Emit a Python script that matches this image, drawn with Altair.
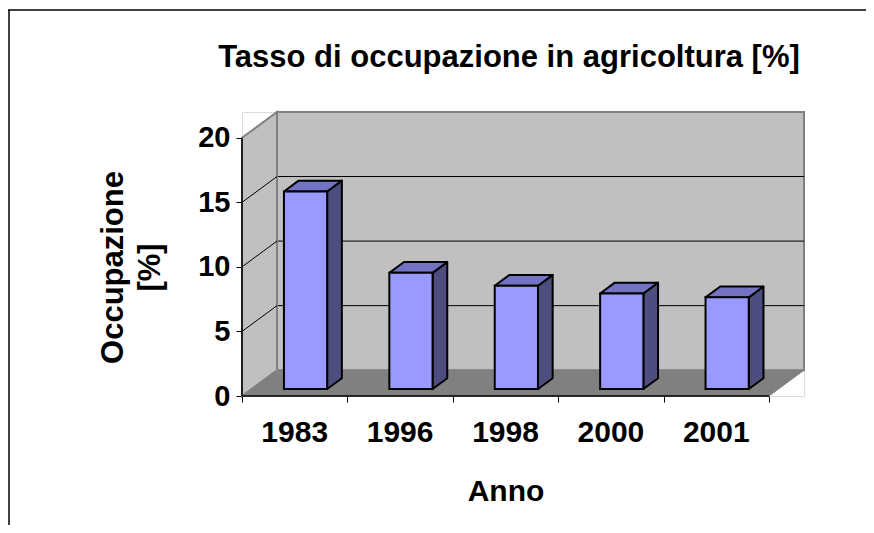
import altair as alt
import pandas as pd

# ---- data ----
years = ["1983", "1996", "1998", "2000", "2001"]
values = [15.3, 9.0, 8.0, 7.4, 7.1]
y_ticks = [0, 5, 10, 15, 20]
grid_vals = [5, 10, 15]
title_text = "Tasso di occupazione in agricoltura [%]"

# ---- pseudo-3D geometry (in data units) ----
DX = 0.332   # depth offset along x (category units)
DY = 2.0     # depth offset along y (value units)
F0X = 0.31   # depth of bar front face (horizontal shift)
F0Y = 0.27   # depth of bar front face (vertical shift)
FD = 0.42    # bar depth as fraction of full depth
W = 0.41     # bar width (category units)
N = len(years)
YMAX = 20

FONT = "Liberation Sans"
xs = alt.Scale(domain=[0, N + DX], nice=False, zero=False)
ys = alt.Scale(domain=[0, YMAX + DY], nice=False, zero=False)

X_AX = alt.Axis(values=list(range(N + 1)), labels=False,
                ticks=True, tickColor="black", tickSize=6, domain=False, grid=False,
                title="Anno", titleFont=FONT, titleFontSize=30, titleFontWeight="bold",
                titleColor="black", titleX=263.5, titleY=80, titleAnchor="middle")
Y_AX = alt.Axis(values=y_ticks, labelFont=FONT, labelFontSize=29, labelFontWeight="bold",
                labelColor="black", labelPadding=6, tickColor="black", tickSize=6,
                domain=False, grid=False,
                title=["Occupazione", "[%]"], titleFont=FONT, titleFontSize=31,
                titleFontWeight="bold", titleColor="black", titleX=-113, titleY=155,
                titleLineHeight=37)


def X(f="x"):
    return alt.X(f + ":Q", scale=xs, axis=X_AX)


def Y(f="y"):
    return alt.Y(f + ":Q", scale=ys, axis=Y_AX)


# back wall
back = pd.DataFrame([{"x": DX, "x2": N + DX, "y": DY, "y2": YMAX + DY}])
back_l = alt.Chart(back).mark_rect(fill="#C0C0C0", stroke="#808080", strokeWidth=2).encode(
    x=X(), x2="x2:Q", y=Y(), y2="y2:Q")

# back gridlines
bg = pd.DataFrame([{"x": DX, "x2": N + DX, "y": v + DY} for v in grid_vals])
bg_l = alt.Chart(bg).mark_rule(color="black", strokeWidth=1).encode(x=X(), x2="x2:Q", y=Y())

# left wall (vertical parallelogram)
lw = pd.DataFrame([{"x": 0, "y": YMAX, "y2": 0}, {"x": DX, "y": YMAX + DY, "y2": DY}])
lw_l = alt.Chart(lw).mark_area(fill="#C0C0C0", stroke="#808080", strokeWidth=2,
                               interpolate="linear").encode(x=X(), y=Y(), y2="y2:Q")

# left wall diagonals
dg = pd.DataFrame([{"x": 0, "y": v, "x2": DX, "y2": v + DY} for v in grid_vals])
dg_l = alt.Chart(dg).mark_rule(color="black", strokeWidth=1).encode(
    x=X(), y=Y(), x2="x2:Q", y2="y2:Q")

# floor (horizontal parallelogram)
fl = pd.DataFrame([{"y": 0, "x": 0, "x2": N}, {"y": DY, "x": DX, "x2": N + DX}])
fl_l = alt.Chart(fl).mark_area(orient="horizontal", fill="#808080", stroke="#808080",
                               strokeWidth=1).encode(y=Y(), x=X(), x2="x2:Q")

# front axis lines
ax = pd.DataFrame([{"x": 0, "y": 0, "x2": 0, "y2": YMAX}, {"x": 0, "y": 0, "x2": N, "y2": 0}])
ax_l = alt.Chart(ax).mark_rule(color="black", strokeWidth=1.5).encode(
    x=X(), y=Y(), x2="x2:Q", y2="y2:Q")

# bars
front_rows, side_rows, top_rows = [], [], []
for i, v in enumerate(values):
    x0 = i + 0.5 - W / 2 + F0X * DX
    x1 = x0 + W
    yb = F0Y * DY
    yt = v + F0Y * DY
    ddx, ddy = FD * DX, FD * DY
    front_rows.append({"x": x0, "x2": x1, "y": yb, "y2": yt})
    side_rows += [{"b": i, "x": x1, "y": yt, "y2": yb},
                  {"b": i, "x": x1 + ddx, "y": yt + ddy, "y2": yb + ddy}]
    top_rows += [{"b": i, "y": yt, "x": x0, "x2": x1},
                 {"b": i, "y": yt + ddy, "x": x0 + ddx, "x2": x1 + ddx}]

side_l = alt.Chart(pd.DataFrame(side_rows)).mark_area(
    fill="#4D4D80", stroke="black", strokeWidth=2, strokeJoin="round").encode(
    x=X(), y=Y(), y2="y2:Q", detail="b:N")
top_l = alt.Chart(pd.DataFrame(top_rows)).mark_area(
    orient="horizontal", fill="#7373C4", stroke="black", strokeWidth=2,
    strokeJoin="round").encode(y=Y(), x=X(), x2="x2:Q", detail="b:N")
front_l = alt.Chart(pd.DataFrame(front_rows)).mark_rect(
    fill="#9999FF", stroke="black", strokeWidth=2).encode(
    x=X(), x2="x2:Q", y=Y(), y2="y2:Q")

# category labels
lab = pd.DataFrame({"x": [i + 0.5 for i in range(N)], "t": years})
lab_l = alt.Chart(lab).mark_text(font=FONT, fontSize=30, fontWeight="bold", color="black",
                                 baseline="top", align="center").encode(
    x=X(), y=alt.value(306), text="t:N")

# chart title
tt = pd.DataFrame({"t": [title_text]})
tt_l = alt.Chart(tt).mark_text(font=FONT, fontSize=31, fontWeight="bold", color="black",
                               baseline="alphabetic", align="center").encode(
    x=alt.value(267), y=alt.value(-45), text="t:N")

# outer chart-area border (top and left edges visible)
bd = pd.DataFrame([{"k": 0}])
bt = alt.Chart(bd).mark_rule(color="black", strokeWidth=1.5).encode(
    x=alt.value(-234), x2=alt.value(640), y=alt.value(-102))
bl = alt.Chart(bd).mark_rule(color="black", strokeWidth=1.5).encode(
    x=alt.value(-233), y=alt.value(-102), y2=alt.value(430))

chart = alt.layer(back_l, bg_l, lw_l, dg_l, fl_l, ax_l, side_l, top_l, front_l, lab_l,
                  tt_l, bt, bl).properties(
    width=562, height=284,
    autosize=alt.AutoSizeParams(type="none"),
    padding={"left": 234, "top": 104, "right": 62, "bottom": 129},
).configure_view(stroke=None).configure(background="white")

chart.save("out.html", embed_options={"renderer": "svg", "actions": False})
